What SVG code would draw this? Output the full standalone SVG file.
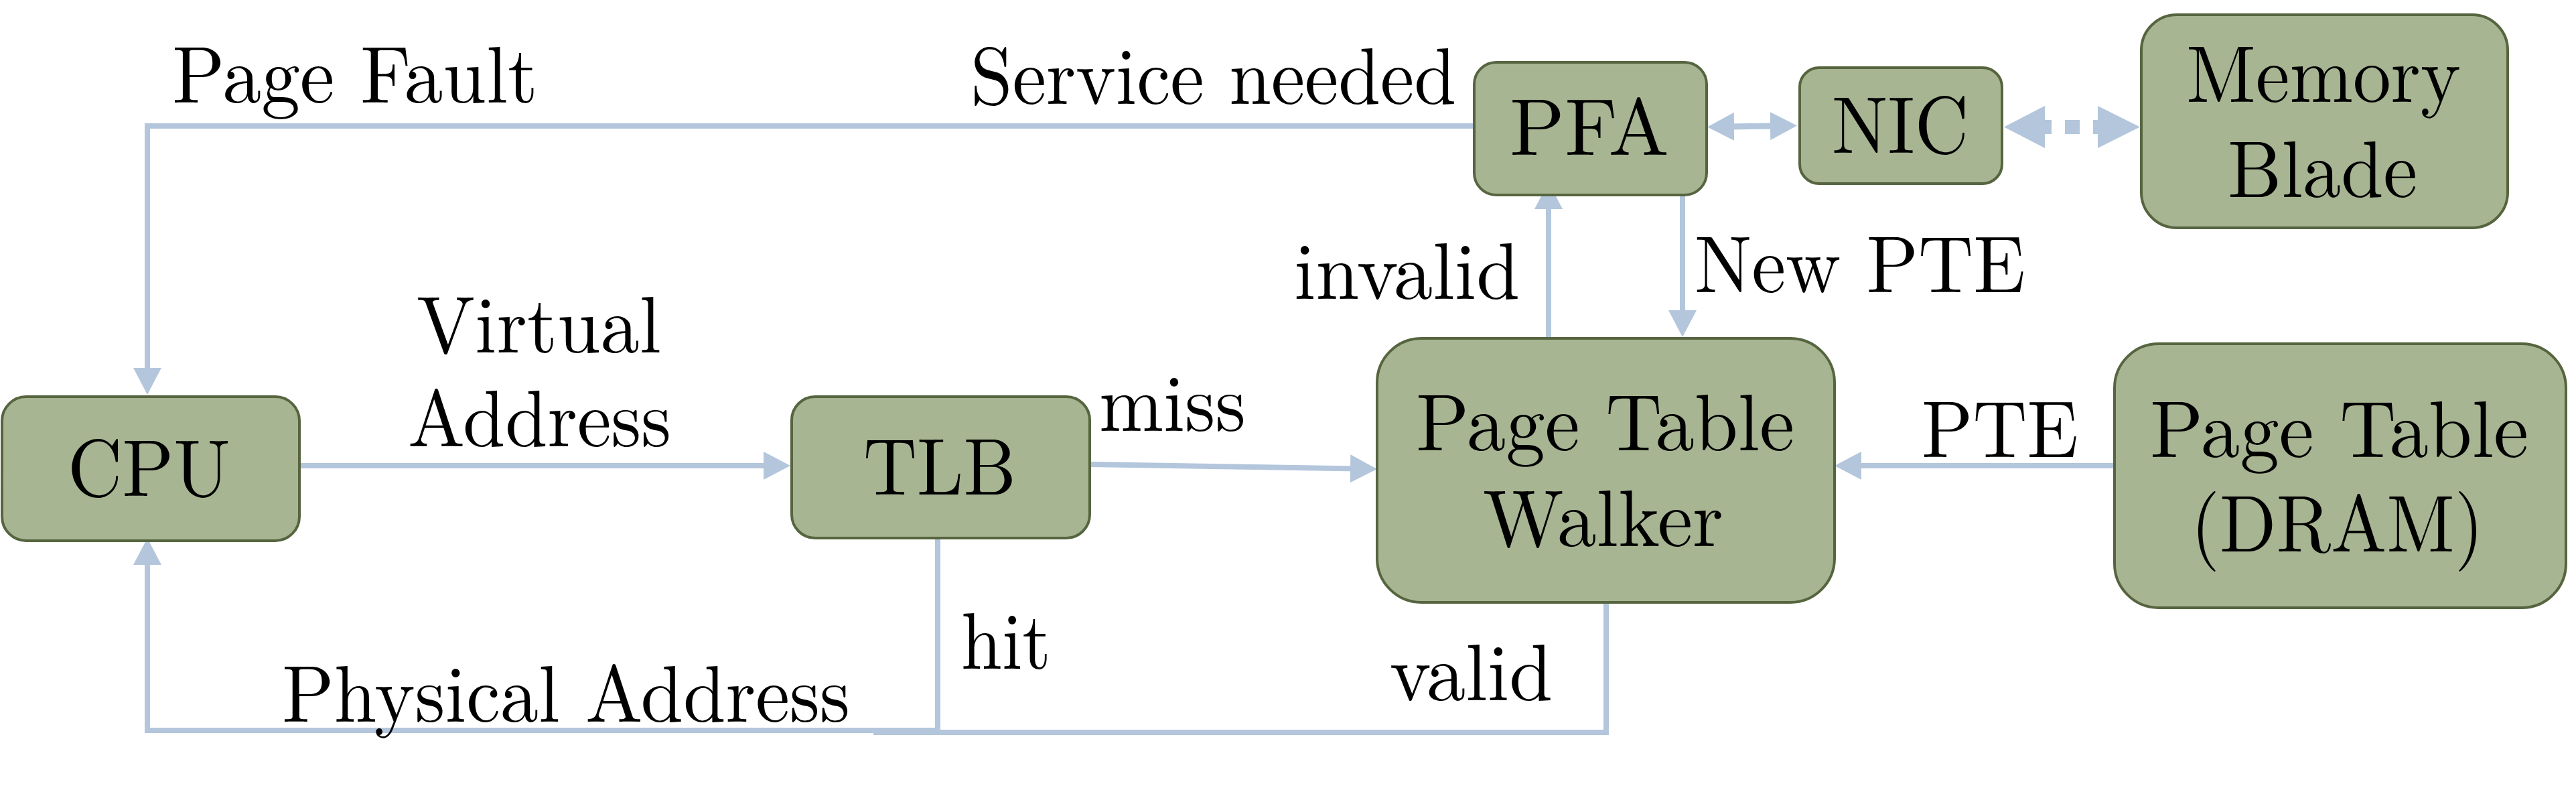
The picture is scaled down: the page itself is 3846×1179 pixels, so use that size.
<svg xmlns="http://www.w3.org/2000/svg" width="3846" height="1179" viewBox="0 0 3846 1179">
<style>
.node{fill:#a7b592;stroke:#56653f;stroke-width:4}
.c{fill:none;stroke:#b3c6dc;stroke-width:8}
text{font-family:'Latin Modern Roman','DejaVu Serif',serif;font-size:120px;fill:#000}
</style>
<defs>
<marker id="ah" viewBox="0 0 40 42" refX="10" refY="21" markerWidth="40" markerHeight="42" markerUnits="userSpaceOnUse" orient="auto-start-reverse">
<path d="M0,0 L40,21 L0,42 Z" fill="#b3c6dc"/>
</marker>
</defs>
<rect width="3846" height="1179" fill="#fff"/>
<g id="connectors">
<path class="c" d="M2200,188 H220 V559" marker-end="url(#ah)"/>
<path class="c" d="M447,695 H1150" marker-end="url(#ah)"/>
<path class="c" d="M1627,693 L2026,699.5" marker-end="url(#ah)"/>
<path class="c" d="M3157,695 H2769" marker-end="url(#ah)"/>
<path class="c" d="M2312,505 V302" marker-end="url(#ah)"/>
<path class="c" d="M2512,291 V473" marker-end="url(#ah)"/>
<path class="c" d="M1404,1090 H220 V833" marker-end="url(#ah)"/>
<path class="c" d="M1400,803 V1090"/>
<path class="c" d="M2398,899 V1093 H1304"/>
<path class="c" style="stroke-width:9" d="M2579,189 L2653,188" marker-start="url(#ah)" marker-end="url(#ah)"/>
<g id="dotted-link" fill="#b3c6dc">
<polygon points="2992,189.5 3053,158 3053,221"/>
<line x1="3053" y1="189.5" x2="3132" y2="189.5" stroke="#b3c6dc" stroke-width="21" stroke-dasharray="10 20 22 20 7"/>
<polygon points="3195,189.5 3132,158 3132,221"/>
</g>
</g>
<g id="labels">
<text x="257" y="153" textLength="546" lengthAdjust="spacingAndGlyphs">Page Fault</text>
<text x="1449" y="155" textLength="725" lengthAdjust="spacingAndGlyphs">Service needed</text>
<text x="622" y="526" textLength="365" lengthAdjust="spacingAndGlyphs">Virtual</text>
<text x="609" y="666" textLength="393" lengthAdjust="spacingAndGlyphs">Address</text>
<text x="1641" y="643" textLength="219" lengthAdjust="spacingAndGlyphs">miss</text>
<text x="1435" y="998" textLength="134" lengthAdjust="spacingAndGlyphs">hit</text>
<text x="421" y="1077" textLength="848" lengthAdjust="spacingAndGlyphs">Physical Address</text>
<text x="2075" y="1045" textLength="243" lengthAdjust="spacingAndGlyphs">valid</text>
<text x="1932" y="446" textLength="337" lengthAdjust="spacingAndGlyphs">invalid</text>
<text x="2530" y="436" textLength="494" lengthAdjust="spacingAndGlyphs">New PTE</text>
<text x="2869" y="682" textLength="234" lengthAdjust="spacingAndGlyphs">PTE</text>
</g>
<g id="cpu">
<rect class="node" x="3" y="592" width="444" height="215" rx="36"/>
<text x="101" y="740" textLength="243" lengthAdjust="spacingAndGlyphs">CPU</text>
</g>
<g id="tlb">
<rect class="node" x="1182" y="592" width="445" height="211" rx="35"/>
<text x="1289" y="738" textLength="228" lengthAdjust="spacingAndGlyphs">TLB</text>
</g>
<g id="ptw">
<rect class="node" x="2056" y="505" width="683" height="394" rx="66"/>
<text x="2114" y="672" textLength="565" lengthAdjust="spacingAndGlyphs">Page Table</text>
<text x="2214" y="815" textLength="359" lengthAdjust="spacingAndGlyphs">Walker</text>
</g>
<g id="pagetable-dram">
<rect class="node" x="3157" y="513" width="674" height="394" rx="66"/>
<text x="3210" y="682" textLength="565" lengthAdjust="spacingAndGlyphs">Page Table</text>
<text x="3271" y="823" textLength="437" lengthAdjust="spacingAndGlyphs">(DRAM)</text>
</g>
<g id="pfa">
<rect class="node" x="2201" y="93" width="347" height="198" rx="33"/>
<text x="2254" y="231" textLength="238" lengthAdjust="spacingAndGlyphs">PFA</text>
</g>
<g id="nic">
<rect class="node" x="2687" y="101" width="302" height="173" rx="29"/>
<text x="2735" y="228" textLength="204" lengthAdjust="spacingAndGlyphs">NIC</text>
</g>
<g id="memory-blade">
<rect class="node" x="3197" y="22" width="547" height="318" rx="53"/>
<text x="3264" y="152" textLength="410" lengthAdjust="spacingAndGlyphs">Memory</text>
<text x="3326" y="294" textLength="283" lengthAdjust="spacingAndGlyphs">Blade</text>
</g>
</svg>
